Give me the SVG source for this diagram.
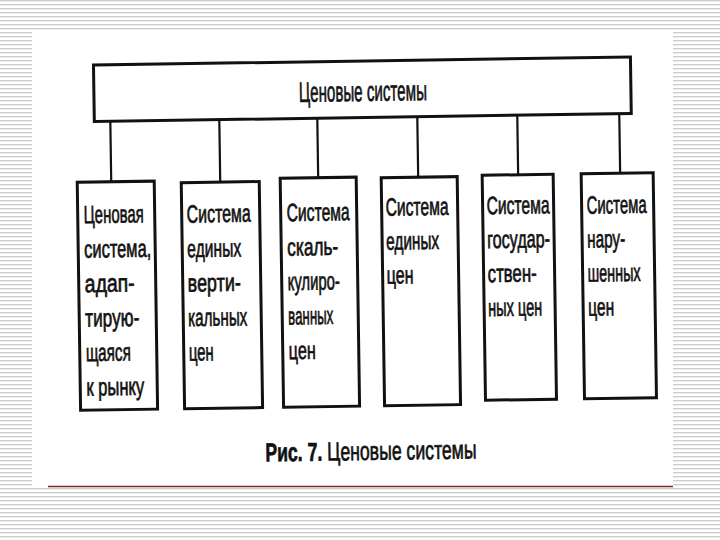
<svg xmlns="http://www.w3.org/2000/svg" width="720" height="540" viewBox="0 0 720 540">
  <defs>
    <pattern id="stripes" width="8" height="4" patternUnits="userSpaceOnUse">
      <rect width="8" height="4" fill="#ffffff"/>
      <rect y="0" width="8" height="1.4" fill="#cdcdcd"/>
    </pattern>
    <style>
      .box { fill: #ffffff; stroke: #111111; stroke-width: 3; }
      .conn { stroke: #111111; stroke-width: 2.2; fill: none; }
      .t { font-family: "Liberation Sans Narrow", "Liberation Sans", Arial, sans-serif; font-size: 25px; fill: #111111; stroke: #111111; stroke-width: 0.7; }
      .title { font-size: 28px; }
      .cap { font-size: 26px; }
      .b { font-weight: bold; }
    </style>
  </defs>

  <!-- slide background -->
  <rect x="0" y="0" width="720" height="540" fill="url(#stripes)"/>
  <rect x="32" y="31" width="641" height="455" fill="#ffffff"/>
  <line x1="48" y1="486.5" x2="673" y2="486.5" stroke="#7a2a2a" stroke-width="1.6"/>

  <g transform="rotate(-0.85 366 300)">
    <!-- connectors -->
    <g id="connectors">
      <line class="conn" x1="113" y1="117" x2="113" y2="179"/>
      <line class="conn" x1="222" y1="117" x2="222" y2="181"/>
      <line class="conn" x1="320" y1="117" x2="320" y2="178"/>
      <line class="conn" x1="420" y1="117" x2="420" y2="179"/>
      <line class="conn" x1="520" y1="117" x2="520" y2="178"/>
      <line class="conn" x1="622" y1="117" x2="622" y2="178"/>
    </g>

    <g id="root">
      <rect class="box" x="97" y="61" width="537" height="56.5"/>
      <text class="t title" x="302" y="101" textLength="128" lengthAdjust="spacingAndGlyphs">Ценовые системы</text>
    </g>

    <g id="n1">
      <rect class="box" x="79" y="178" width="77" height="228"/>
      <text class="t" x="85" y="219" textLength="60" lengthAdjust="spacingAndGlyphs">Ценовая</text>
      <text class="t" x="85" y="253.5" textLength="67" lengthAdjust="spacingAndGlyphs">система,</text>
      <text class="t" x="85" y="288" textLength="50" lengthAdjust="spacingAndGlyphs">адап-</text>
      <text class="t" x="85" y="322.5" textLength="54" lengthAdjust="spacingAndGlyphs">тирую-</text>
      <text class="t" x="85" y="357" textLength="45" lengthAdjust="spacingAndGlyphs">щаяся</text>
      <text class="t" x="85" y="391.5" textLength="58" lengthAdjust="spacingAndGlyphs">к рынку</text>
    </g>

    <g id="n2">
      <rect class="box" x="183" y="180" width="78" height="226"/>
      <text class="t" x="188" y="220" textLength="64" lengthAdjust="spacingAndGlyphs">Система</text>
      <text class="t" x="188" y="254.5" textLength="54" lengthAdjust="spacingAndGlyphs">единых</text>
      <text class="t" x="188" y="289" textLength="53" lengthAdjust="spacingAndGlyphs">верти-</text>
      <text class="t" x="188" y="323.5" textLength="59" lengthAdjust="spacingAndGlyphs">кальных</text>
      <text class="t" x="188" y="358" textLength="25" lengthAdjust="spacingAndGlyphs">цен</text>
    </g>

    <g id="n3">
      <rect class="box" x="282" y="177" width="76" height="229"/>
      <text class="t" x="288" y="220" textLength="63" lengthAdjust="spacingAndGlyphs">Система</text>
      <text class="t" x="288" y="254.5" textLength="51" lengthAdjust="spacingAndGlyphs">скаль-</text>
      <text class="t" x="288" y="289" textLength="52" lengthAdjust="spacingAndGlyphs">кулиро-</text>
      <text class="t" x="288" y="323.5" textLength="45" lengthAdjust="spacingAndGlyphs">ванных</text>
      <text class="t" x="288" y="358" textLength="27" lengthAdjust="spacingAndGlyphs">цен</text>
    </g>

    <g id="n4">
      <rect class="box" x="383" y="178" width="76" height="228"/>
      <text class="t" x="387" y="216" textLength="63" lengthAdjust="spacingAndGlyphs">Система</text>
      <text class="t" x="387" y="250" textLength="53" lengthAdjust="spacingAndGlyphs">единых</text>
      <text class="t" x="387" y="284" textLength="27" lengthAdjust="spacingAndGlyphs">цен</text>
    </g>

    <g id="n5">
      <rect class="box" x="484" y="177" width="71" height="225"/>
      <text class="t" x="488" y="216" textLength="63" lengthAdjust="spacingAndGlyphs">Система</text>
      <text class="t" x="488" y="250" textLength="63" lengthAdjust="spacingAndGlyphs">государ-</text>
      <text class="t" x="488" y="284" textLength="49" lengthAdjust="spacingAndGlyphs">ствен-</text>
      <text class="t" x="488" y="318" textLength="54" lengthAdjust="spacingAndGlyphs">ных цен</text>
    </g>

    <g id="n6">
      <rect class="box" x="583" y="177" width="72" height="225"/>
      <text class="t" x="588" y="217" textLength="60" lengthAdjust="spacingAndGlyphs">Система</text>
      <text class="t" x="588" y="251" textLength="38" lengthAdjust="spacingAndGlyphs">нару-</text>
      <text class="t" x="588" y="285" textLength="53" lengthAdjust="spacingAndGlyphs">шенных</text>
      <text class="t" x="588" y="319" textLength="26" lengthAdjust="spacingAndGlyphs">цен</text>
    </g>

    <g id="caption" transform="translate(263 460) scale(0.68 1)">
      <text class="t cap" x="0" y="0"><tspan class="b">Рис. 7.</tspan> Ценовые системы</text>
    </g>
  </g>
</svg>
